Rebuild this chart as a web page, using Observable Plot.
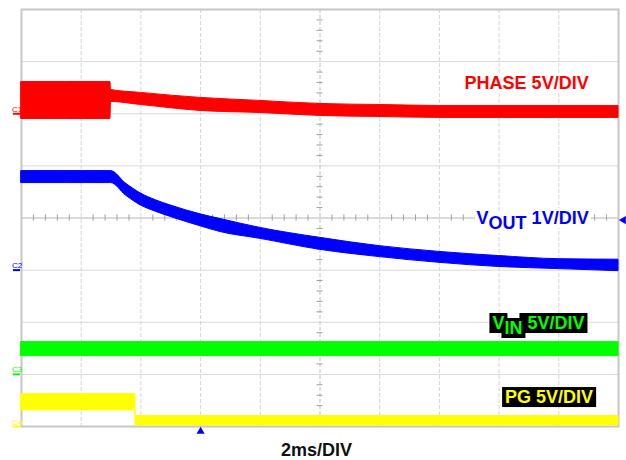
<!DOCTYPE html>
<html><head><meta charset="utf-8">
<script src="https://cdn.jsdelivr.net/npm/d3@7"></script>
<script src="https://cdn.jsdelivr.net/npm/@observablehq/plot@0.6"></script>
<style>
body{margin:0;background:#fff;}
#chart svg{display:block;}
</style>
</head><body><div id="chart"></div>
<script>
// ---- Channel metadata ----
const channelNames  = ["PHASE", "V", "V", "PG"];
const channelSubs   = ["", "OUT", "IN", ""];
const voltsPerDiv   = [5, 1, 5, 5];
const groundDiv     = [2, -1, -3, -4];          // ground marker positions (divisions from centre)
const channelColors = ["#ff0000", "#0000ff", "#00ff00", "#ffff00"];
const timeLabel = "2ms/DIV";
const triggerTime = 0;        // ms
const triggerLevelDiv = -0.04; // divisions

// ---- Trace envelopes (time in ms, volts) ----
const phaseT  = [-6, -3.02, -3.0, -2.0, 0.0, 2.0, 4.0, 6.0, 8.0, 14.0];
const phaseHi = [3.05, 3.05, 2.28, 2.0, 1.52, 1.23, 0.94, 0.84, 0.75, 0.75];
const phaseLo = [-0.5, -0.5, 1.13, 0.84, 0.27, 0.07, -0.21, -0.31, -0.40, -0.40];

const voutT  = [-6, -3.0, -2.5, -2.0, -1.5, -1.0, 0.0, 0.67, 2.0, 4.0, 6.0, 8.0, 10.0, 12.0, 14.0];
const voutHi = [1.90, 1.90, 1.66, 1.47, 1.34, 1.24, 1.07, 0.98, 0.81, 0.62, 0.46, 0.35, 0.27, 0.21, 0.20];
const voutLo = [1.67, 1.67, 1.43, 1.24, 1.12, 1.02, 0.84, 0.73, 0.60, 0.39, 0.25, 0.14, 0.06, 0.02, -0.02];

const vinT  = [-6, 14];
const vinHi = [3.1, 3.1];
const vinLo = [1.75, 1.75];

const pgT  = [-6, -2.19, -2.17, 14];
const pgHi = [3.1, 3.1, 1.0, 1.0];
const pgLo = [1.55, 1.55, 0.1, 0.1];

const traceT  = [phaseT, voutT, vinT, pgT];
const traceHi = [phaseHi, voutHi, vinHi, pgHi];
const traceLo = [phaseLo, voutLo, vinLo, pgLo];

// ---- Grid ----
const gridX = [-4, -2, 0, 2, 6, 8, 10, 12];
const centreX = 4;
const gridY = [-3, -2, -1, 1, 2, 3];
const minorX = d3.range(-6, 14.001, 0.4).filter(d => Math.abs(d / 2 - Math.round(d / 2)) > 1e-6);
const minorY = d3.range(-4, 4.001, 0.2).filter(d => Math.abs(d - Math.round(d)) > 1e-6);

const toDiv = (v, ch) => groundDiv[ch] + v / voltsPerDiv[ch];

const labelText = channelNames.map((n, i) => `${n}${channelSubs[i]} ${voltsPerDiv[i]}V/DIV`);
const labelPos = [
  {x: 13.0, y: 2.476, bg: "white"},
  {x: 13.0, y: -0.115, bg: "white"},
  {x: 12.86, y: -2.13, bg: "black"},
  {x: 13.15, y: -3.55, bg: "black"}
];

const font = "'Liberation Sans', Arial, sans-serif";
const marks = [
  Plot.ruleX(gridX, {stroke: "#d6d6d6", strokeDasharray: "4,2"}),
  Plot.ruleY(gridY, {stroke: "#d8d8d8"}),
  Plot.ruleX([centreX], {stroke: "#c0c0c0", strokeDasharray: "4,2"}),
  Plot.ruleY([0], {stroke: "#b4b4b4"}),
  Plot.ruleX(minorX, {y1: -0.06, y2: 0.06, stroke: "#a0a0a0"}),
  Plot.ruleY(minorY, {x1: 3.9, x2: 4.1, stroke: "#a0a0a0"}),
  Plot.frame({stroke: "#c6c6c6", strokeWidth: 2})
];

channelNames.forEach((name, ch) => {
  const rows = traceT[ch].map((t, i) => ({t, hi: toDiv(traceHi[ch][i], ch), lo: toDiv(traceLo[ch][i], ch)}));
  marks.push(Plot.areaY(rows, {x: "t", y1: "lo", y2: "hi", curve: "monotone-x",
    fill: channelColors[ch], stroke: channelColors[ch], strokeWidth: 1}));
});

channelNames.forEach((name, ch) => {
  marks.push(Plot.ruleY([groundDiv[ch]], {x1: -6.27, x2: -6.03, stroke: channelColors[ch], strokeWidth: 2}));
  marks.push(Plot.text([`C${ch + 1}`], {x: -6.15, y: groundDiv[ch], dy: -2, lineAnchor: "bottom", fontSize: 8, fill: channelColors[ch], fontFamily: font}));
  marks.push(Plot.text([labelText[ch]], {x: labelPos[ch].x, y: labelPos[ch].y, textAnchor: "end", lineAnchor: "bottom",
    fontSize: 18, fontWeight: "bold", fill: channelColors[ch], fontFamily: font}));
});

marks.push(Plot.dot([triggerTime], {x: d => d, y: -4, dy: 5, symbol: "triangle", r: 3, fill: "#0000ff"}));
marks.push(Plot.dot([triggerLevelDiv], {x: 14, y: d => d, dx: 5, symbol: "triangle", r: 3, rotate: -90, fill: "#0000ff"}));
marks.push(Plot.text([timeLabel], {x: 3.88, y: -4, dy: 29, lineAnchor: "bottom", fontSize: 18, fontWeight: "bold", fill: "#111", fontFamily: font}));

const svg = Plot.plot({
  width: 626, height: 460,
  marginLeft: 21, marginRight: 8, marginTop: 9, marginBottom: 34,
  x: {domain: [-6, 14], axis: null},
  y: {domain: [-4, 4], axis: null},
  style: {fontFamily: font, background: "white", overflow: "visible"},
  marks
});
document.getElementById("chart").append(svg);

// Subscripts and label backgrounds
const NS = "http://www.w3.org/2000/svg";
svg.querySelectorAll("text").forEach(el => {
  const idx = labelText.indexOf(el.textContent);
  if (idx < 0) return;
  const parts = [];
  if (channelSubs[idx]) {
    el.textContent = "";
    const a = document.createElementNS(NS, "tspan"); a.textContent = channelNames[idx];
    const b = document.createElementNS(NS, "tspan"); b.textContent = channelSubs[idx]; b.setAttribute("dy", "5");
    const c = document.createElementNS(NS, "tspan"); c.textContent = ` ${voltsPerDiv[idx]}V/DIV`; c.setAttribute("dy", "-5");
    c.setAttribute("style", "white-space:pre");
    el.append(a, b, c);
    parts.push(a, b, c);
  } else parts.push(el);
  const bg = labelPos[idx].bg;
  const padX = bg === "black" ? 3 : 2;
  parts.forEach(p => {
    let bb;
    try { bb = p.getBBox(); } catch (e) { bb = el.getBBox(); }
    const r = document.createElementNS(NS, "rect");
    r.setAttribute("x", bb.x - padX);
    r.setAttribute("y", bb.y);
    r.setAttribute("width", bb.width + 2 * padX);
    r.setAttribute("height", bb.height);
    r.setAttribute("fill", bg);
    if (el.getAttribute("transform")) r.setAttribute("transform", el.getAttribute("transform"));
    el.parentNode.insertBefore(r, el);
  });
});
</script>
</body></html>
